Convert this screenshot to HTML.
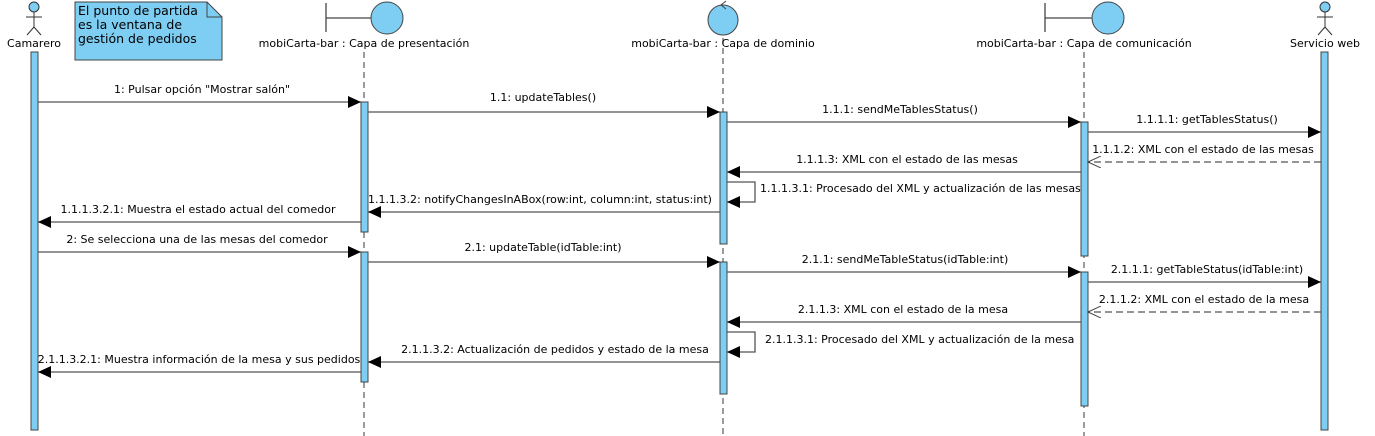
<!DOCTYPE html>
<html><head><meta charset="utf-8"><style>
html,body{margin:0;padding:0;background:#fff;}
svg{display:block;}
text{font-family:"DejaVu Sans","Liberation Sans",sans-serif;font-size:11px;fill:#000;}
.l{stroke:#555;stroke-width:1.3;fill:none;}
.d{stroke:#555;stroke-width:1.3;fill:none;stroke-dasharray:7,4;}
.ll{stroke:#666;stroke-width:1.3;stroke-dasharray:6,4;}
.b{fill:#7ecef4;stroke:#444;stroke-width:1;}
</style></head><body>
<svg width="1375" height="436" viewBox="0 0 1375 436" xmlns="http://www.w3.org/2000/svg">
<defs>
<marker id="a" markerWidth="14" markerHeight="12" refX="13" refY="6" orient="auto" markerUnits="userSpaceOnUse"><path d="M0,0 L13,6 L0,12 Z" fill="#000"/></marker>
<marker id="o" markerWidth="14" markerHeight="12" refX="13" refY="6" orient="auto" markerUnits="userSpaceOnUse"><path d="M0,0 L13,6 L0,12" fill="none" stroke="#444" stroke-width="1"/></marker>
</defs>
<line class="ll" x1="364" y1="52" x2="364" y2="436"/>
<line class="ll" x1="723" y1="38" x2="723" y2="436"/>
<line class="ll" x1="1084" y1="52" x2="1084" y2="436"/>
<g stroke="#333" stroke-width="1" fill="none">
<circle cx="34" cy="7" r="5" fill="#7ecef4"/><line x1="34" y1="12" x2="34" y2="27"/><line x1="26" y1="17" x2="42" y2="17"/><line x1="34" y1="27" x2="27" y2="35"/><line x1="34" y1="27" x2="41" y2="35"/>
<circle cx="1325" cy="7" r="5" fill="#7ecef4"/><line x1="1325" y1="12" x2="1325" y2="27"/><line x1="1317" y1="17" x2="1333" y2="17"/><line x1="1325" y1="27" x2="1318" y2="35"/><line x1="1325" y1="27" x2="1332" y2="35"/>
</g>
<text x="34" y="47" text-anchor="middle">Camarero</text>
<text x="1325" y="47" text-anchor="middle">Servicio web</text>
<path d="M75,2 H207 L222,17 V60 H75 Z" class="b"/>
<path d="M207,2 V17 H222" fill="none" stroke="#444"/>
<text x="78" y="15" style="font-size:12.5px">El punto de partida</text>
<text x="78" y="29" style="font-size:12.5px">es la ventana de</text>
<text x="78" y="43" style="font-size:12.5px">gestión de pedidos</text>
<line x1="326" y1="3" x2="326" y2="32" stroke="#444" stroke-width="1.3"/>
<line x1="326" y1="18" x2="371" y2="18" stroke="#444" stroke-width="1.3"/>
<circle cx="387" cy="18" r="16" class="b"/>
<text x="364" y="47" text-anchor="middle">mobiCarta-bar : Capa de presentación</text>
<circle cx="723" cy="20" r="15" class="b"/>
<path d="M726,1 L721,5 L726,9" fill="none" stroke="#444"/>
<text x="723" y="47" text-anchor="middle">mobiCarta-bar : Capa de dominio</text>
<line x1="1045" y1="3" x2="1045" y2="32" stroke="#444" stroke-width="1.3"/>
<line x1="1045" y1="18" x2="1092" y2="18" stroke="#444" stroke-width="1.3"/>
<circle cx="1108" cy="18" r="16" class="b"/>
<text x="1084" y="47" text-anchor="middle">mobiCarta-bar : Capa de comunicación</text>
<rect class="b" x="31" y="52" width="7" height="378"/>
<rect class="b" x="1321" y="52" width="7" height="378"/>
<rect class="b" x="361" y="102" width="7" height="130"/>
<rect class="b" x="361" y="252" width="7" height="130"/>
<rect class="b" x="720" y="112" width="7" height="132"/>
<rect class="b" x="720" y="262" width="7" height="132"/>
<rect class="b" x="1081" y="122" width="7" height="134"/>
<rect class="b" x="1081" y="272" width="7" height="134"/>
<line class="l" x1="38" y1="102" x2="361" y2="102" marker-end="url(#a)"/>
<text x="202" y="93" text-anchor="middle">1: Pulsar opción "Mostrar salón"</text>
<line class="l" x1="368" y1="112" x2="720" y2="112" marker-end="url(#a)"/>
<text x="543" y="101" text-anchor="middle">1.1: updateTables()</text>
<line class="l" x1="727" y1="122" x2="1081" y2="122" marker-end="url(#a)"/>
<text x="900" y="113" text-anchor="middle">1.1.1: sendMeTablesStatus()</text>
<line class="l" x1="1088" y1="132" x2="1321" y2="132" marker-end="url(#a)"/>
<text x="1207" y="123" text-anchor="middle">1.1.1.1: getTablesStatus()</text>
<line class="d" x1="1321" y1="162" x2="1088" y2="162" marker-end="url(#o)"/>
<text x="1203" y="153" text-anchor="middle">1.1.1.2: XML con el estado de las mesas</text>
<line class="l" x1="1081" y1="172" x2="727" y2="172" marker-end="url(#a)"/>
<text x="907" y="163" text-anchor="middle">1.1.1.3: XML con el estado de las mesas</text>
<path class="l" d="M727,182 H755 V202 H727" marker-end="url(#a)"/>
<text x="760" y="192">1.1.1.3.1: Procesado del XML y actualización de las mesas</text>
<line class="l" x1="720" y1="212" x2="368" y2="212" marker-end="url(#a)"/>
<text x="540" y="203" text-anchor="middle">1.1.1.3.2: notifyChangesInABox(row:int, column:int, status:int)</text>
<line class="l" x1="361" y1="222" x2="38" y2="222" marker-end="url(#a)"/>
<text x="198" y="213" text-anchor="middle">1.1.1.3.2.1: Muestra el estado actual del comedor</text>
<line class="l" x1="38" y1="252" x2="361" y2="252" marker-end="url(#a)"/>
<text x="197" y="243" text-anchor="middle">2: Se selecciona una de las mesas del comedor</text>
<line class="l" x1="368" y1="262" x2="720" y2="262" marker-end="url(#a)"/>
<text x="543" y="251" text-anchor="middle">2.1: updateTable(idTable:int)</text>
<line class="l" x1="727" y1="272" x2="1081" y2="272" marker-end="url(#a)"/>
<text x="905" y="263" text-anchor="middle">2.1.1: sendMeTableStatus(idTable:int)</text>
<line class="l" x1="1088" y1="282" x2="1321" y2="282" marker-end="url(#a)"/>
<text x="1207" y="273" text-anchor="middle">2.1.1.1: getTableStatus(idTable:int)</text>
<line class="d" x1="1321" y1="312" x2="1088" y2="312" marker-end="url(#o)"/>
<text x="1204" y="303" text-anchor="middle">2.1.1.2: XML con el estado de la mesa</text>
<line class="l" x1="1081" y1="322" x2="727" y2="322" marker-end="url(#a)"/>
<text x="903" y="313" text-anchor="middle">2.1.1.3: XML con el estado de la mesa</text>
<path class="l" d="M727,332 H755 V352 H727" marker-end="url(#a)"/>
<text x="765" y="343">2.1.1.3.1: Procesado del XML y actualización de la mesa</text>
<line class="l" x1="720" y1="362" x2="368" y2="362" marker-end="url(#a)"/>
<text x="555" y="353" text-anchor="middle">2.1.1.3.2: Actualización de pedidos y estado de la mesa</text>
<line class="l" x1="361" y1="372" x2="38" y2="372" marker-end="url(#a)"/>
<text x="199" y="363" text-anchor="middle">2.1.1.3.2.1: Muestra información de la mesa y sus pedidos</text>
</svg>
</body></html>
